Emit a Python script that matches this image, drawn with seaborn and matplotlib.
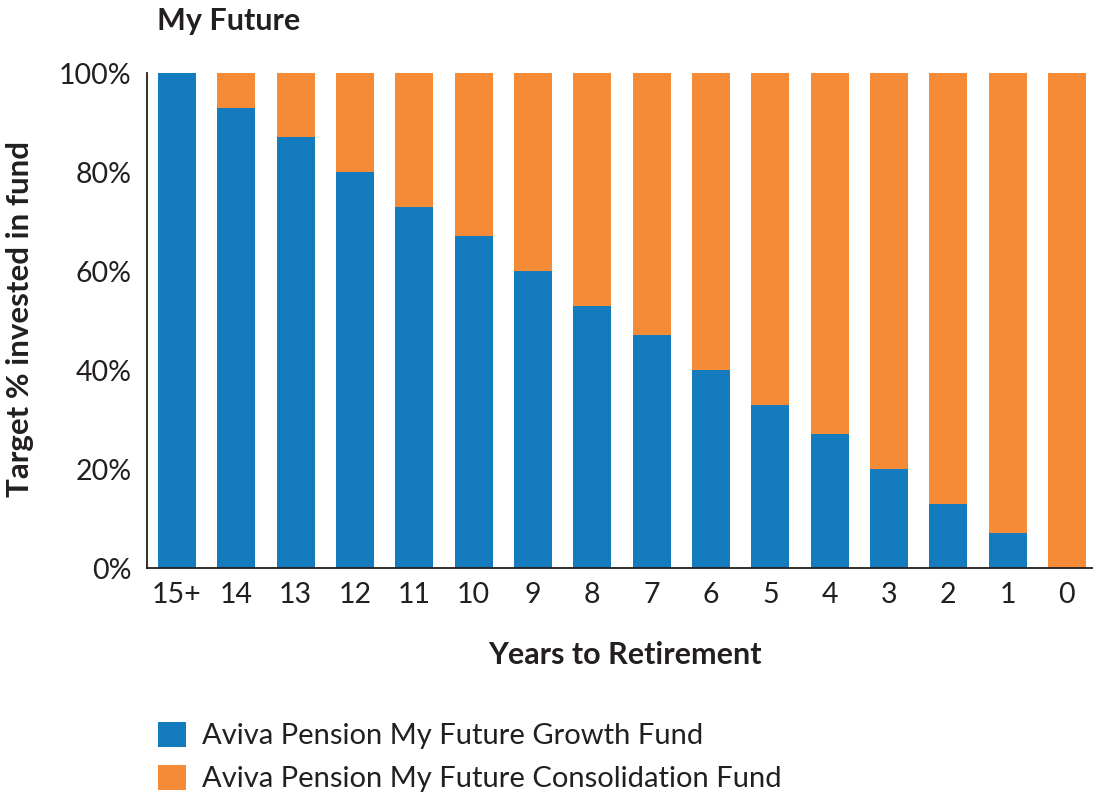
import matplotlib
matplotlib.use("Agg")
import matplotlib.pyplot as plt
from matplotlib.patches import Patch
import seaborn as sns
import pandas as pd

# Glide path: target allocation by years to retirement
years = ["15+", "14", "13", "12", "11", "10", "9", "8", "7", "6", "5", "4", "3", "2", "1", "0"]
growth = [100, 93, 87, 80, 73, 67, 60, 53, 47, 40, 33, 27, 20, 13, 7, 0]
consolidation = [0, 7, 13, 20, 27, 33, 40, 47, 53, 60, 67, 73, 80, 87, 93, 100]
series_names = ["Aviva Pension My Future Growth Fund",
                "Aviva Pension My Future Consolidation Fund"]
y_ticks = [0, 20, 40, 60, 80, 100]

BLUE = "#157bbf"
ORANGE = "#f58b36"
INK = "#231f20"

sns.set_theme(style="white")
plt.rcParams["font.family"] = ["Lato", "DejaVu Sans"]
plt.rcParams["text.color"] = INK
plt.rcParams["axes.labelcolor"] = INK
plt.rcParams["xtick.color"] = INK
plt.rcParams["ytick.color"] = INK

df = pd.DataFrame({"years": years, "growth": growth, "consolidation": consolidation})
df["total"] = df["growth"] + df["consolidation"]

fig = plt.figure(figsize=(10.93, 7.98), dpi=100)
ax = fig.add_axes([0.1345, 0.2882, 0.8655, 0.6203])

# Stack: full-height consolidation bars, growth share drawn over the bottom
bar_kw = dict(width=0.64, saturation=1, linewidth=0, edgecolor="none", order=years, ax=ax)
sns.barplot(data=df, x="years", y="total", color=ORANGE, **bar_kw)
sns.barplot(data=df, x="years", y="growth", color=BLUE, **bar_kw)

ax.set_ylim(0, 100)
ax.set_xlim(-0.506, len(years) - 1 + 0.44)
ax.set_yticks(y_ticks)
ax.set_yticklabels([f"{v}%" for v in y_ticks], fontsize=20.5)
ax.set_xticks(range(len(years)))
ax.set_xticklabels(years, fontsize=20.5)
ax.set_xticks([i + 0.5 for i in range(len(years) - 1)], minor=True)

ax.tick_params(axis="x", which="major", length=0, pad=10)
ax.tick_params(axis="x", which="minor", direction="in", length=8, width=1.1, color=INK)
ax.tick_params(axis="y", which="major", direction="in", length=8, width=1.1, color=INK, pad=11)

for side in ["top", "right"]:
    ax.spines[side].set_visible(False)
for side in ["left", "bottom"]:
    ax.spines[side].set_color(INK)
    ax.spines[side].set_linewidth(1.3)

ax.set_xlabel("Years to Retirement", fontsize=22, fontweight="bold", va="center")
ax.xaxis.set_label_coords(0.505, -0.176)
ax.set_ylabel("Target % invested in fund", fontsize=22.5, fontweight="bold", va="center")
ax.yaxis.set_label_coords(-0.1342, 0.504)

fig.text(0.1436, 0.974, "My Future", fontsize=22, fontweight="bold", va="center", ha="left")

handles = [Patch(facecolor=BLUE, edgecolor="none"), Patch(facecolor=ORANGE, edgecolor="none")]
fig.legend(handles, series_names, loc="upper left", bbox_to_anchor=(0.1446, 0.0955),
           frameon=False, fontsize=21, handlelength=0.96, handleheight=0.96,
           handletextpad=0.55, labelspacing=0.52, borderaxespad=0, borderpad=0)

fig.savefig("out.png", dpi=100, facecolor="white")
